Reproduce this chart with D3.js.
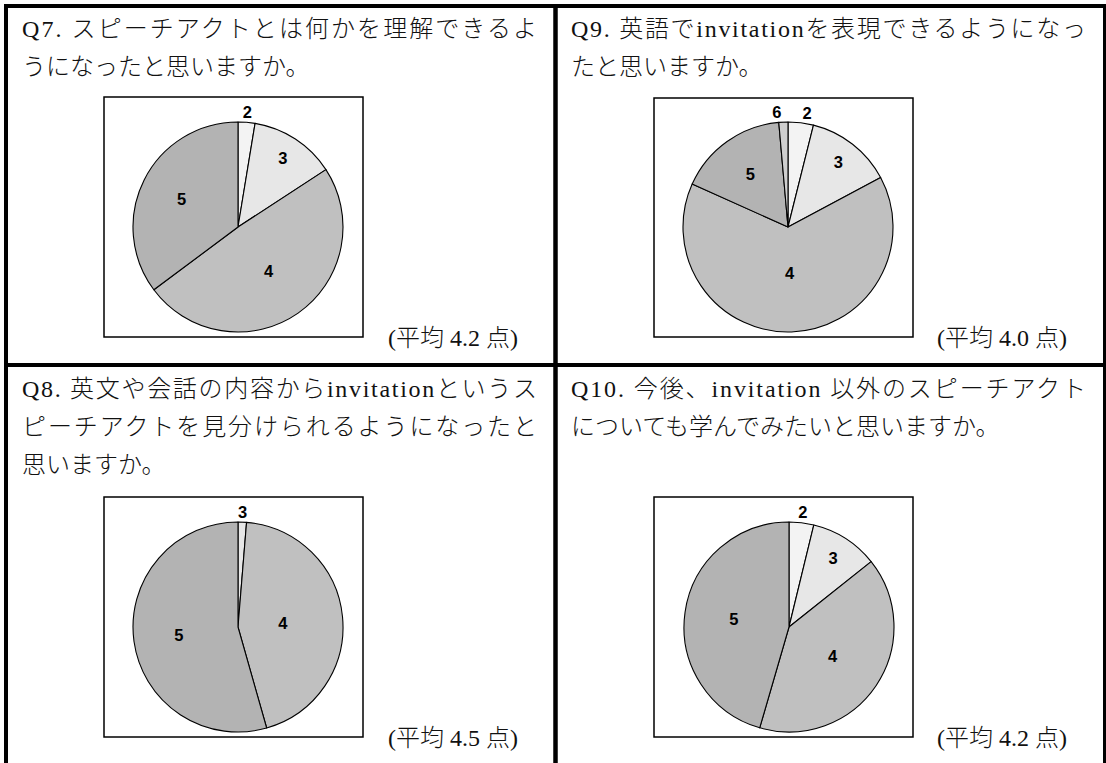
<!DOCTYPE html>
<html lang="ja">
<head>
<meta charset="utf-8">
<script src="https://cdn.jsdelivr.net/npm/d3@7"></script>
<style>
  html, body { margin: 0; padding: 0; background: #fff; }
  svg { display: block; }
</style>
</head>
<body>
<svg id="chart" width="1106" height="763"></svg>
<script>
// ---- survey results: share of answers per rating (percent) ----
const q7Labels  = ["2", "3", "4", "5"];
const q7Values  = [2.6, 13.2, 49.0, 35.2];

const q9Labels  = ["2", "3", "4", "5", "6"];
const q9Values  = [3.9, 13.3, 64.5, 16.9, 1.4];

const q8Labels  = ["3", "4", "5"];
const q8Values  = [1.3, 44.3, 54.4];

const q10Labels = ["2", "3", "4", "5"];
const q10Values = [3.8, 10.5, 40.2, 45.5];

// question texts (one entry per printed line) and the mean score notes
const q7Lines  = ["Q7. スピーチアクトとは何かを理解できるよ", "うになったと思いますか。"];
const q9Lines  = ["Q9. 英語でinvitationを表現できるようになっ", "たと思いますか。"];
const q8Lines  = ["Q8. 英文や会話の内容からinvitationというス", "ピーチアクトを見分けられるようになったと", "思いますか。"];
const q10Lines = ["Q10. 今後、invitation 以外のスピーチアクト", "についても学んでみたいと思いますか。"];
const meanNotes = ["(平均 4.2 点)", "(平均 4.0 点)", "(平均 4.5 点)", "(平均 4.2 点)"];

// ---- drawing ----
const svg = d3.select("#chart");
const W = 1106, H = 763;
svg.append("rect").attr("width", W).attr("height", H).attr("fill", "#fff");

const sliceFill = d3.scaleOrdinal()
  .domain(["2", "3", "4", "5", "6"])
  .range(["#f3f3f3", "#e7e7e7", "#c0c0c0", "#b3b3b3", "#cfcfcf"]);

const textFont = "'Liberation Serif', 'Noto Sans CJK JP', serif";
const fontSize = 24;
const lineGap = 38;

// table frame
const frame = svg.append("g").attr("stroke", "#000").attr("fill", "none");
frame.append("line").attr("x1", 4).attr("x2", W).attr("y1", 6).attr("y2", 6).attr("stroke-width", 4);
frame.append("line").attr("x1", 6).attr("x2", 6).attr("y1", 4).attr("y2", H).attr("stroke-width", 4);
frame.append("line").attr("x1", 555.5).attr("x2", 555.5).attr("y1", 4).attr("y2", H).attr("stroke-width", 4.5);
frame.append("line").attr("x1", 1104.5).attr("x2", 1104.5).attr("y1", 4).attr("y2", H).attr("stroke-width", 3);
frame.append("line").attr("x1", 4).attr("x2", W).attr("y1", 365).attr("y2", 365).attr("stroke-width", 4);

// panel layout: where each question's text, chart box and pie go
const panels = [
  { lines: q7Lines,  labels: q7Labels,  values: q7Values,  note: meanNotes[0],
    tx: 22,  ty: 37,  textW: 515, box: [104, 97, 259, 240], c: [238, 227],
    labelR: [1.1, 0.78, 0.51, 0.6], nudge: [0, 0, 0, 0], noteXY: [388, 346] },
  { lines: q9Lines,  labels: q9Labels,  values: q9Values,  note: meanNotes[1],
    tx: 571, ty: 37,  textW: 515, box: [654, 98, 259, 239], c: [788, 227],
    labelR: [1.1, 0.78, 0.44, 0.62, 1.1], nudge: [2.5, 0, 0, 0, -3], noteXY: [937, 346] },
  { lines: q8Lines,  labels: q8Labels,  values: q8Values,  note: meanNotes[2],
    tx: 22,  ty: 397, textW: 515, box: [104, 497, 259, 240], c: [238, 627],
    labelR: [1.1, 0.43, 0.57], nudge: [0, 0, 0], noteXY: [388, 746] },
  { lines: q10Lines, labels: q10Labels, values: q10Values, note: meanNotes[3],
    tx: 571, ty: 397, textW: 515, box: [654, 497, 259, 240], c: [789, 627],
    labelR: [1.1, 0.78, 0.5, 0.53], nudge: [0, 0, 0, 0], noteXY: [937, 746] }
];

const R = 105;
const pie = d3.pie().sort(null).value(d => d.value);
const arc = d3.arc().innerRadius(0).outerRadius(R);

panels.forEach(p => {
  const g = svg.append("g");

  // question text; every line but the last is justified to the cell width
  p.lines.forEach((line, i) => {
    const t = g.append("text")
      .attr("x", p.tx)
      .attr("y", p.ty + i * lineGap)
      .attr("font-family", textFont)
      .attr("font-size", fontSize)
      .attr("font-weight", 300)
      .attr("fill", "#111")
      .text(line);
    if (i < p.lines.length - 1) {
      t.attr("textLength", p.textW).attr("lengthAdjust", "spacing");
    }
  });

  // chart box
  g.append("rect")
    .attr("x", p.box[0]).attr("y", p.box[1])
    .attr("width", p.box[2]).attr("height", p.box[3])
    .attr("fill", "#fff").attr("stroke", "#000").attr("stroke-width", 1.5);

  // pie
  const data = p.labels.map((label, i) => ({ label, value: p.values[i], idx: i }));
  const arcs = pie(data);
  const pg = g.append("g").attr("transform", `translate(${p.c[0]},${p.c[1]})`);
  pg.selectAll("path")
    .data(arcs)
    .join("path")
    .attr("d", arc)
    .attr("fill", d => sliceFill(d.data.label))
    .attr("stroke", "#000")
    .attr("stroke-width", 1.1)
    .attr("stroke-linejoin", "round");

  // slice labels
  const labelAngle = d => (d.startAngle + d.endAngle) / 2 + p.nudge[d.data.idx] * Math.PI / 180;
  pg.selectAll("text.slice")
    .data(arcs)
    .join("text")
    .attr("class", "slice")
    .attr("x", d => Math.sin(labelAngle(d)) * R * p.labelR[d.data.idx])
    .attr("y", d => -Math.cos(labelAngle(d)) * R * p.labelR[d.data.idx])
    .attr("text-anchor", "middle")
    .attr("dominant-baseline", "central")
    .attr("font-family", "'Liberation Sans', Arial, sans-serif")
    .attr("font-weight", "bold")
    .attr("font-size", 16.5)
    .attr("fill", "#000")
    .text(d => d.data.label);

  // mean score note
  g.append("text")
    .attr("x", p.noteXY[0]).attr("y", p.noteXY[1])
    .attr("font-family", textFont)
    .attr("font-size", fontSize)
    .attr("font-weight", 300)
    .attr("fill", "#111")
    .text(p.note);
});
</script>
</body>
</html>
